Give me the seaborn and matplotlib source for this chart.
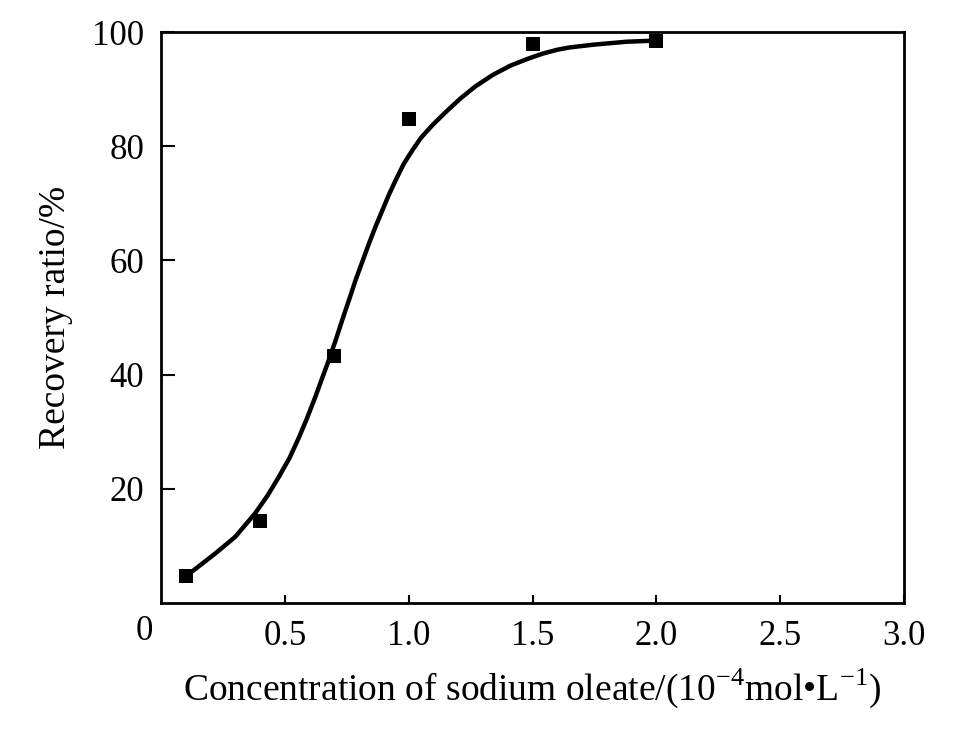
import numpy as np
import pandas as pd
import seaborn as sns
import matplotlib.pyplot as plt

# measured points
conc = [0.1, 0.4, 0.7, 1.0, 1.5, 2.0]
recovery = [4.8, 14.3, 43.2, 84.7, 97.9, 98.5]

# fitted curve
curve_x = [0.10, 0.125, 0.22, 0.30, 0.38, 0.43, 0.476, 0.52, 0.557, 0.59, 0.624,
           0.65, 0.678, 0.705, 0.732, 0.76, 0.786, 0.813, 0.84, 0.867, 0.894,
           0.92, 0.948, 0.98, 1.015, 1.05, 1.096, 1.15, 1.21, 1.27, 1.34, 1.41,
           1.48, 1.54, 1.60, 1.65, 1.75, 1.88, 2.0]
curve_y = [5.0, 5.5, 8.7, 11.6, 15.7, 18.8, 22.1, 25.5, 29.0, 32.4, 36.2,
           39.3, 42.6, 46.0, 49.6, 53.2, 56.6, 59.8, 63.0, 66.0, 68.8,
           71.5, 74.1, 76.9, 79.3, 81.5, 83.7, 86.0, 88.4, 90.5, 92.5, 94.1,
           95.3, 96.2, 96.9, 97.3, 97.8, 98.3, 98.5]

x_ticks = [0.5, 1.0, 1.5, 2.0, 2.5, 3.0]
y_ticks = [20, 40, 60, 80, 100]

pts = pd.DataFrame({'conc': conc, 'recovery': recovery})
fit = pd.DataFrame({'x': curve_x, 'y': curve_y})

sns.set_style('ticks')
plt.rcParams['font.family'] = ['Liberation Serif', 'DejaVu Serif']
plt.rcParams['mathtext.fontset'] = 'custom'
plt.rcParams['mathtext.rm'] = 'Liberation Serif'
plt.rcParams['text.color'] = 'black'
plt.rcParams['axes.labelcolor'] = 'black'
plt.rcParams['xtick.color'] = 'black'
plt.rcParams['ytick.color'] = 'black'

fig = plt.figure(figsize=(9.68, 7.36), dpi=100)
ax = fig.add_axes([0.1663, 0.1807, 0.7677, 0.7758])

sns.lineplot(data=fit, x='x', y='y', color='black', linewidth=3.2, sort=False, ax=ax)
sns.scatterplot(data=pts, x='conc', y='recovery', marker='s', s=90, color='black',
                edgecolor='black', linewidth=0, ax=ax, zorder=3)

ax.set_xlim(0, 3.0)
ax.set_ylim(0, 100)
ax.set_xticks(x_ticks)
ax.set_xticklabels(['%.1f' % t for t in x_ticks])
ax.set_yticks(y_ticks)
ax.set_yticklabels([str(t) for t in y_ticks])
ax.tick_params(axis='both', direction='in', labelsize=25, width=1.5,
               colors='black', labelcolor='black')
ax.tick_params(axis='x', length=6, pad=12)
ax.tick_params(axis='y', length=10, pad=12)
for s in ax.spines.values():
    s.set_linewidth(2)
    s.set_color('black')

ax.text(-0.022, -0.05, '0', transform=ax.transAxes, fontsize=25,
        ha='center', va='center', color='black')

ax.set_xlabel(r'Concentration of sodium oleate/(10$^{-4}$mol•L$^{-1}$)',
              fontsize=27, labelpad=10, color='black')
ax.set_ylabel('Recovery ratio/%', fontsize=27, labelpad=14, color='black')

fig.savefig('out.png', dpi=100)
